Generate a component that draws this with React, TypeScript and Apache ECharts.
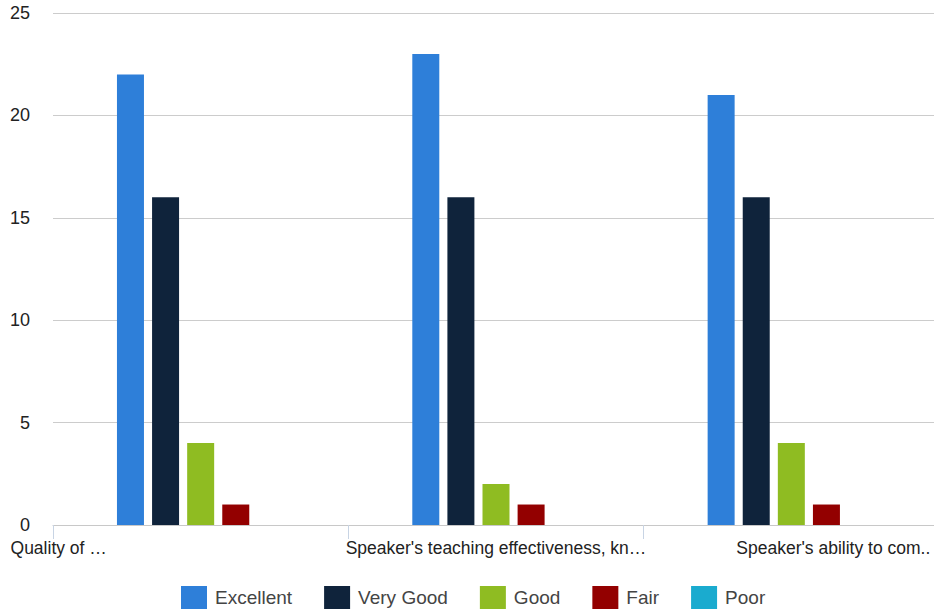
import React, { useEffect, useRef } from "react";
import * as echarts from "echarts";

const categories = [
  "Quality of …",
  "Speaker's teaching effectiveness, kn…",
  "Speaker's ability to com..",
];
const seriesNames = ["Excellent", "Very Good", "Good", "Fair", "Poor"];
const excellent = [22, 23, 21];
const veryGood = [16, 16, 16];
const good = [4, 2, 4];
const fair = [1, 1, 1];
const poor = [0, 0, 0];
const colors = ["#2e7fd9", "#0f233b", "#8fbc22", "#930000", "#1aabcf"];
const yTicks = { min: 0, max: 25, interval: 5 };

const FONT = "Arial, 'Liberation Sans', sans-serif";
const LFS = 17.5;

export default function App() {
  const ref = useRef<HTMLDivElement>(null);
  useEffect(() => {
    if (!ref.current) return;
    const chart = echarts.init(ref.current, undefined, { renderer: "svg" });
    const values = [excellent, veryGood, good, fair, poor];
    chart.setOption({
      animation: false,
      color: colors,
      textStyle: { fontFamily: FONT },
      grid: { left: 53, right: 1, top: 13, bottom: 87, containLabel: false },
      legend: {
        bottom: -2,
        left: 176,
        itemWidth: 26,
        itemHeight: 23,
        itemGap: 32,
        icon: "rect",
        textStyle: { fontSize: 19, color: "#444", fontFamily: FONT, padding: [0, 0, 0, 3] },
        data: seriesNames,
      },
      xAxis: {
        type: "category",
        data: categories,
        axisLine: { lineStyle: { color: "#c8c8c8", width: 1 } },
        axisTick: { show: true, length: 14, lineStyle: { color: "#c8d4e4" } },
        axisLabel: {
          interval: 0,
          margin: 14,
          color: "#222",
          fontSize: LFS,
          fontFamily: FONT,
          formatter: (v: string, i: number) => `{l${i}|${v}}`,
          rich: {
            l0: { fontSize: LFS, fontFamily: FONT, color: "#222", padding: [0, 284, 0, 0] },
            l1: { fontSize: LFS, fontFamily: FONT, color: "#222" },
            l2: { fontSize: LFS, fontFamily: FONT, color: "#222", padding: [0, 0, 0, 84] },
          },
        },
      },
      yAxis: {
        type: "value",
        min: yTicks.min,
        max: yTicks.max,
        interval: yTicks.interval,
        axisLine: { show: false },
        axisTick: { show: false },
        splitLine: { lineStyle: { color: "#cccccc", width: 1 } },
        axisLabel: { margin: 23, color: "#222", fontSize: 18, fontFamily: FONT },
      },
      series: seriesNames.map((name, i) => ({
        name,
        type: "bar",
        data: values[i],
        barWidth: 27,
        barGap: "30%",
        itemStyle: { color: colors[i] },
      })),
    });
    return () => chart.dispose();
  }, []);
  return (
    <div
      style={{ position: "fixed", left: 0, top: 0, width: 934, height: 612, background: "#fff", overflow: "hidden" }}
    >
      <div ref={ref} style={{ width: 940, height: 612 }} />
    </div>
  );
}
